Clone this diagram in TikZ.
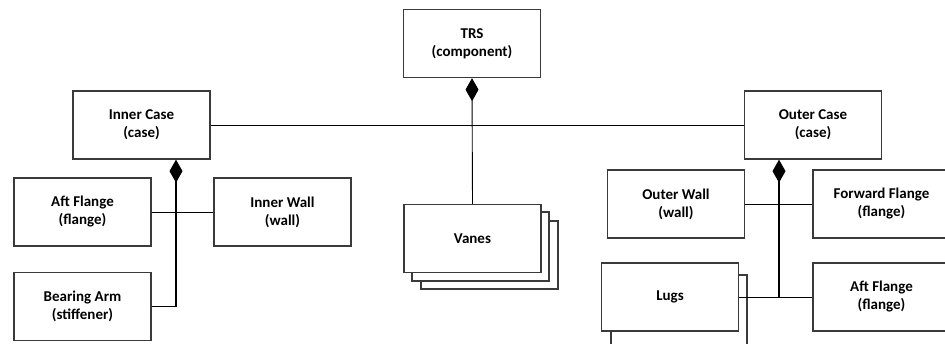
\documentclass[tikz,border=0pt]{standalone}
\usepackage{fontspec}
\setmainfont{Carlito}
\usetikzlibrary{arrows.meta}
\definecolor{boxline}{HTML}{3A3A3A}
\begin{document}
\begin{tikzpicture}[x=1pt,y=-1pt,
  box/.style={draw=boxline, line width=1.3pt, fill=white,
    minimum width=137pt, minimum height=68pt, inner sep=0pt,
    align=center, font=\fontsize{15}{18}\selectfont\bfseries},
  backbox/.style={draw=boxline, line width=1.3pt, fill=white},
  link/.style={draw=black, line width=0.9pt},
  trunk/.style={draw=black, line width=1.8pt},
  owns/.style={-{Diamond[length=23pt,width=13pt]}}
]
\useasboundingbox (0,0) rectangle (945,343);
\clip (0,0) rectangle (945,343);

% top-level component
\node[box] (trs) at (472,43.5) {TRS\\(component)};

% cases
\node[box] (ic) at (141.5,125) {Inner Case\\(case)};
\node[box] (oc) at (813,125) {Outer Case\\(case)};

% inner case parts
\node[box] (aftI) at (82.5,212) {Aft Flange\\(flange)};
\node[box] (wallI) at (282.5,212) {Inner Wall\\(wall)};
\node[box] (arm) at (82.5,306.5) {Bearing Arm\\(stiffener)};

% vanes (stack of three)
\draw[backbox] (421,221) rectangle (558,289);
\draw[backbox] (412,212) rectangle (549,281);
\node[box] (vanes) at (472.5,238.5) {Vanes};

% outer case parts
\node[box] (wallO) at (676,204) {Outer Wall\\(wall)};
\node[box] (fwd) at (881.5,204) {Forward Flange\\(flange)};
\node[box] (aftO) at (881.5,297) {Aft Flange\\(flange)};
\draw[backbox] (611,275) rectangle (747,345);
\node[box] (lugs) at (670,297) {Lugs};

% connectors
\draw[link] (ic.east) -- (oc.west);
\draw[link, owns] (vanes.north) -- (trs.south);

\draw[link] (aftI.east) -- (wallI.west);
\coordinate (icj) at ([xshift=34.5pt]ic.south);
\draw[trunk] (arm.east) -| ([yshift=-10pt]icj);
\draw[link, owns] ([yshift=-12pt]icj) -- (icj);

\draw[link] (wallO.east) -- (fwd.west);
\draw[link] (lugs.east) -- (aftO.west);
\coordinate (ocj) at ([xshift=-34pt]oc.south);
\draw[trunk] (ocj |- lugs.east) -- ([yshift=-10pt]ocj);
\draw[link, owns] ([yshift=-12pt]ocj) -- (ocj);
\end{tikzpicture}
\end{document}
